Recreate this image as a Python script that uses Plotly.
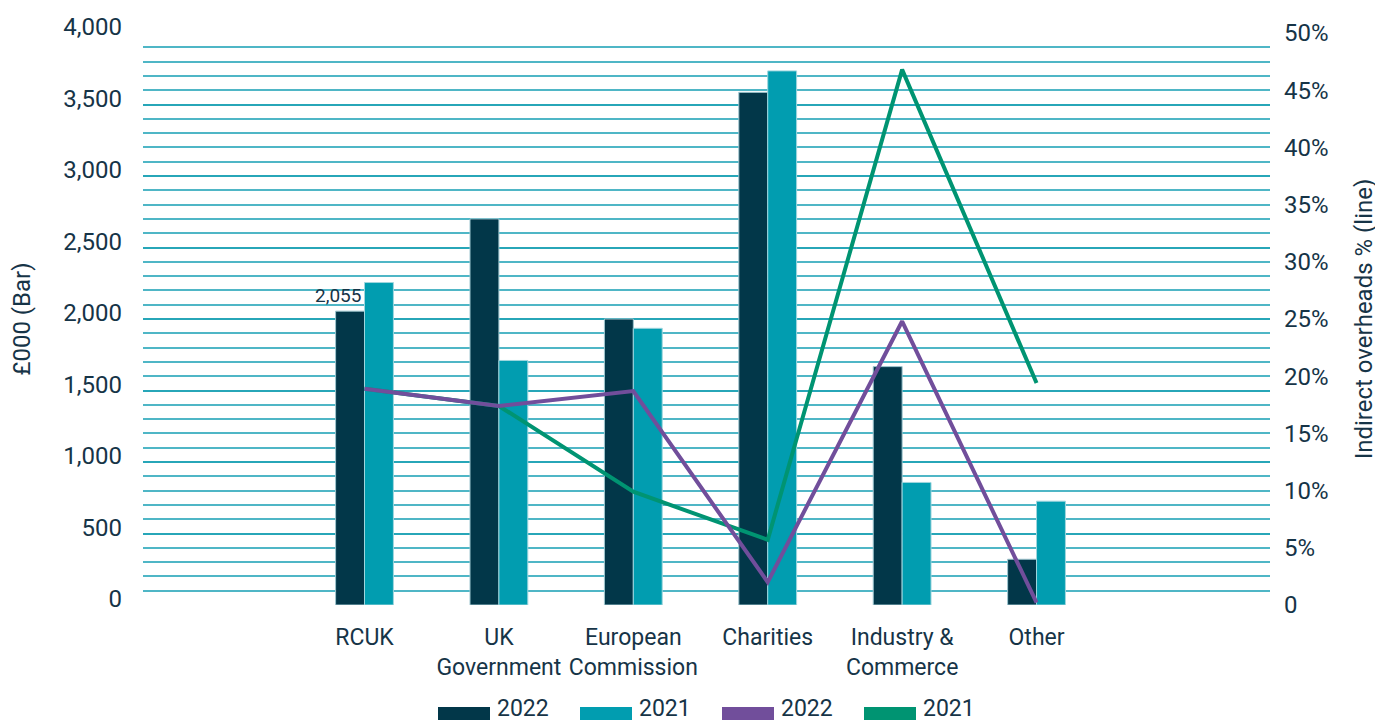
import plotly.graph_objects as go

categories = ["RCUK", "UK<br>Government", "European<br>Commission", "Charities",
              "Industry &<br>Commerce", "Other"]
bars_2022 = [2055, 2700, 2000, 3585, 1667, 320]
bars_2021 = [2255, 1710, 1935, 3735, 857, 726]
overhead_2022 = [0.189, 0.174, 0.187, 0.020, 0.248, 0.002]
overhead_2021 = [0.189, 0.174, 0.099, 0.057, 0.468, 0.194]
bar_label_text = "2,055"
left_ticks = [0, 500, 1000, 1500, 2000, 2500, 3000, 3500, 4000]
right_tickvals = [0, 0.05, 0.10, 0.15, 0.20, 0.25, 0.30, 0.35, 0.40, 0.45, 0.50]
right_ticktext = ["0", "5%", "10%", "15%", "20%", "25%", "30%", "35%", "40%", "45%", "50%"]
legend_names = ["2022", "2021", "2022", "2021"]

FONT = "Roboto, sans-serif"
TXT = "#163447"
C_BAR22 = "#023749"
C_BAR21 = "#019db0"
C_L22 = "#714e9b"
C_L21 = "#009472"
legend_colors = [C_BAR22, C_BAR21, C_L22, C_L21]

# page has an 8px body margin -> figure is 8px smaller, placed at (8, 8)
W, H = 1375, 716
ML, MT, PW, PH = 135, 25, 1127, 572
MR = W - ML - PW
MB = H - MT - PH

fig = go.Figure()
fig.add_trace(go.Bar(x=categories, y=bars_2022, name="2022", showlegend=False,
                     marker=dict(color=C_BAR22, line=dict(color="#9fc7d0", width=1))))
fig.add_trace(go.Bar(x=categories, y=bars_2021, name="2021", showlegend=False,
                     marker=dict(color=C_BAR21, line=dict(color="#9fd6de", width=1))))
fig.add_trace(go.Scatter(x=categories, y=overhead_2021, name="2021", yaxis="y2",
                         mode="lines", line=dict(color=C_L21, width=4), showlegend=False))
fig.add_trace(go.Scatter(x=categories, y=overhead_2022, name="2022", yaxis="y2",
                         mode="lines", line=dict(color=C_L22, width=4), showlegend=False))

# data label on the first 2022 bar
fig.add_annotation(x=categories[0], y=bars_2022[0], text=bar_label_text, showarrow=False,
                   xref="x", yref="y", yanchor="bottom", xshift=-27, yshift=2,
                   font=dict(size=19, color=TXT, family=FONT))

# custom legend with wide rectangular swatches (page-pixel layout -> paper coords)
def px(X):
    return (X - 8 - ML) / PW

def py(Y):
    return (MT + PH - (Y - 8)) / PH

for i, (nm, col) in enumerate(zip(legend_names, legend_colors)):
    x0 = 438 + 142 * i
    fig.add_shape(type="rect", xref="paper", yref="paper",
                  x0=px(x0), x1=px(x0 + 52), y0=py(707), y1=py(720),
                  fillcolor=col, line=dict(width=0))
    fig.add_annotation(xref="paper", yref="paper", x=px(x0 + 57), y=py(708),
                       xanchor="left", yanchor="middle", text=nm, showarrow=False,
                       font=dict(size=23, color=TXT, family=FONT))

fig.update_layout(
    width=W, height=H,
    margin=dict(l=ML, r=MR, t=MT, b=MB, autoexpand=False),
    paper_bgcolor="white", plot_bgcolor="white",
    barmode="group", bargap=0.57, bargroupgap=0,
    font=dict(family=FONT, color=TXT, size=24),
    showlegend=False,
    xaxis=dict(type="category", range=[-1.648, 6.737], showgrid=False, showline=False,
               zeroline=False, ticks="", tickfont=dict(size=23, color=TXT),
               tickangle=0, ticklabelstandoff=16, automargin=False),
    yaxis=dict(range=[0, 4000], tickvals=left_ticks, showgrid=True,
               gridcolor="#27a6b8", gridwidth=1.5, zeroline=False, showline=False,
               tickformat=",", tickfont=dict(size=24, color=TXT), ticklabelstandoff=20,
               ticklabelshift=-6, automargin=False,
               minor=dict(dtick=100, showgrid=True, gridcolor="#4fb6c6", gridwidth=1.5),
               title=dict(text="£000 (Bar)", font=dict(size=24, color=TXT), standoff=33)),
    yaxis2=dict(range=[0, 0.5], overlaying="y", side="right", showgrid=False,
                zeroline=False, showline=False, tickvals=right_tickvals,
                ticktext=right_ticktext, tickfont=dict(size=24, color=TXT),
                ticklabelstandoff=13, automargin=False,
                title=dict(text="Indirect overheads % (line)", font=dict(size=24, color=TXT),
                           standoff=27)),
)

fig.write_html("out.html")
